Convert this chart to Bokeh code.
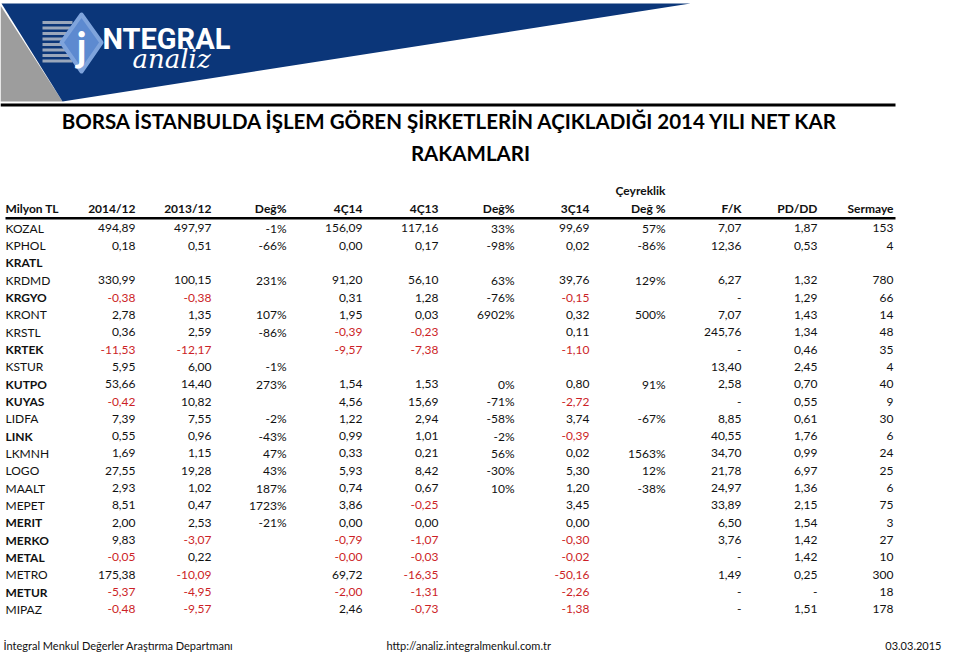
from bokeh.plotting import figure
from bokeh.models import ColumnDataSource, Range1d
from bokeh.core.properties import value
from bokeh.embed import file_html
from bokeh.resources import INLINE

# ---------------- data ----------------
tickers = ["KOZAL", "KPHOL", "KRATL", "KRDMD", "KRGYO", "KRONT", "KRSTL", "KRTEK",
           "KSTUR", "KUTPO", "KUYAS", "LIDFA", "LINK", "LKMNH", "LOGO", "MAALT",
           "MEPET", "MERIT", "MERKO", "METAL", "METRO", "METUR", "MIPAZ"]
bold_tickers = ["KRATL", "KRGYO", "KRTEK", "KUTPO", "KUYAS", "LINK", "MERIT",
                "MERKO", "METAL", "METUR"]

net_2014_12 = ["494,89", "0,18", "", "330,99", "-0,38", "2,78", "0,36", "-11,53", "5,95", "53,66",
               "-0,42", "7,39", "0,55", "1,69", "27,55", "2,93", "8,51", "2,00", "9,83", "-0,05",
               "175,38", "-5,37", "-0,48"]
net_2013_12 = ["497,97", "0,51", "", "100,15", "-0,38", "1,35", "2,59", "-12,17", "6,00", "14,40",
               "10,82", "7,55", "0,96", "1,15", "19,28", "1,02", "0,47", "2,53", "-3,07", "0,22",
               "-10,09", "-4,95", "-9,57"]
chg_yearly = ["-1%", "-66%", "", "231%", "", "107%", "-86%", "", "-1%", "273%",
              "", "-2%", "-43%", "47%", "43%", "187%", "1723%", "-21%", "", "",
              "", "", ""]
q4_2014 = ["156,09", "0,00", "", "91,20", "0,31", "1,95", "-0,39", "-9,57", "", "1,54",
           "4,56", "1,22", "0,99", "0,33", "5,93", "0,74", "3,86", "0,00", "-0,79", "-0,00",
           "69,72", "-2,00", "2,46"]
q4_2013 = ["117,16", "0,17", "", "56,10", "1,28", "0,03", "-0,23", "-7,38", "", "1,53",
           "15,69", "2,94", "1,01", "0,21", "8,42", "0,67", "-0,25", "0,00", "-1,07", "-0,03",
           "-16,35", "-1,31", "-0,73"]
chg_q4 = ["33%", "-98%", "", "63%", "-76%", "6902%", "", "", "", "0%",
          "-71%", "-58%", "-2%", "56%", "-30%", "10%", "", "", "", "",
          "", "", ""]
q3_2014 = ["99,69", "0,02", "", "39,76", "-0,15", "0,32", "0,11", "-1,10", "", "0,80",
           "-2,72", "3,74", "-0,39", "0,02", "5,30", "1,20", "3,45", "0,00", "-0,30", "-0,02",
           "-50,16", "-2,26", "-1,38"]
chg_quarterly = ["57%", "-86%", "", "129%", "", "500%", "", "", "", "91%",
                 "", "-67%", "", "1563%", "12%", "-38%", "", "", "", "",
                 "", "", ""]
pe_ratio = ["7,07", "12,36", "", "6,27", "-", "7,07", "245,76", "-", "13,40", "2,58",
            "-", "8,85", "40,55", "34,70", "21,78", "24,97", "33,89", "6,50", "3,76", "-",
            "1,49", "-", "-"]
pb_ratio = ["1,87", "0,53", "", "1,32", "1,29", "1,43", "1,34", "0,46", "2,45", "0,70",
            "0,55", "0,61", "1,76", "0,99", "6,97", "1,36", "2,15", "1,54", "1,42", "1,42",
            "0,25", "-", "1,51"]
capital = ["153", "4", "", "780", "66", "14", "48", "35", "4", "40",
           "9", "30", "6", "24", "25", "6", "75", "3", "27", "10",
           "300", "18", "178"]

header_labels = ["2014/12", "2013/12", "Değ%", "4Ç14", "4Ç13", "Değ%", "3Ç14",
                 "Değ %", "F/K", "PD/DD", "Sermaye"]
first_header = "Milyon TL"
quarter_header_top = "Çeyreklik"

title_line1 = "BORSA İSTANBULDA İŞLEM GÖREN ŞİRKETLERİN AÇIKLADIĞI 2014 YILI NET KAR"
title_line2 = "RAKAMLARI"
footer_left = "İntegral Menkul Değerler Araştırma Departmanı"
footer_mid = "http://analiz.integralmenkul.com.tr"
footer_right = "03.03.2015"

columns = [net_2014_12, net_2013_12, chg_yearly, q4_2014, q4_2013, chg_q4,
           q3_2014, chg_quarterly, pe_ratio, pb_ratio, capital]

# ---------------- layout ----------------
col_right = [135, 211, 286, 362, 438, 514, 589, 665, 741, 817, 893]
row_top = 227.7
row_step = 17.33
header_y = 208
FONT = value("Lato")
RED = "#cc1f27"
INK = "#111111"
BLUE = "#0b3679"

p = figure(width=944, height=653, x_range=Range1d(0, 944), y_range=Range1d(653, 0),
           output_backend="svg", toolbar_location=None, min_border=0,
           x_axis_location=None, y_axis_location=None,
           background_fill_color="white", border_fill_color="white")
p.outline_line_color = None
p.grid.visible = False

# ---------------- banner ----------------
p.patch([0, 62, 0], [5, 101, 101], color="#9d9d9d", line_color=None)
p.patch([1, 690, 62], [3, 3, 101], color=BLUE, line_color=None)
stripe_y = [22, 27.5, 33, 38.5, 44, 49.5, 55, 60.5]
p.segment(x0=[42] * len(stripe_y), y0=stripe_y, x1=[72] * len(stripe_y), y1=stripe_y,
          line_color="#9aa7bb", line_width=3)
p.patch([81, 101, 81, 61], [14, 42, 71, 42], color="#5d8ad0", line_color="#7fa4dc",
        line_width=4, line_join="round")
p.text(x=[81], y=[45], text=["j"], text_align="center", text_baseline="middle",
       text_font=FONT, text_font_size="40px", text_font_style="bold", text_color="white")
p.text(x=[102], y=[38], text=["NTEGRAL"], text_align="left", text_baseline="middle",
       text_font=value("Roboto"), text_font_size="29px", text_font_style="bold",
       text_color="white")
p.text(x=[132], y=[58], text=["analiz"], text_align="left", text_baseline="middle",
       text_font=value("DejaVu Serif"), text_font_size="26px", text_font_style="italic",
       text_color="white")
p.segment(x0=[0], y0=[104.5], x1=[895], y1=[104.5], line_color="black", line_width=3)

# ---------------- title ----------------
p.text(x=[450, 470], y=[120, 152], text=[title_line1, title_line2], text_align="center",
       text_baseline="middle", text_font=FONT, text_font_size="20.5px",
       text_font_style="bold", text_color="black")

# ---------------- header ----------------
p.text(x=[5], y=[header_y], text=[first_header], text_align="left", text_baseline="middle",
       text_font=FONT, text_font_size="12px", text_font_style="bold", text_color=INK)
p.text(x=col_right, y=[header_y] * len(col_right), text=header_labels, text_align="right",
       text_baseline="middle", text_font=FONT, text_font_size="12px",
       text_font_style="bold", text_color=INK)
p.text(x=[col_right[7]], y=[190], text=[quarter_header_top], text_align="right",
       text_baseline="middle", text_font=FONT, text_font_size="12px",
       text_font_style="bold", text_color=INK)
p.segment(x0=[5], y0=[217.7], x1=[895], y1=[217.7], line_color="black", line_width=2.5)

# ---------------- body ----------------
row_y = [row_top + i * row_step for i in range(len(tickers))]
p.text(x="x", y="y", text="text", text_font_style="style",
       source=ColumnDataSource(dict(
           x=[5] * len(tickers), y=row_y, text=tickers,
           style=["bold" if t in bold_tickers else "normal" for t in tickers])),
       text_align="left", text_baseline="middle", text_font=FONT,
       text_font_size="12px", text_color=INK)

xs, ys, txt, cols = [], [], [], []
for ci, col in enumerate(columns):
    for ri, v in enumerate(col):
        if v == "":
            continue
        xs.append(col_right[ci])
        ys.append(row_y[ri])
        txt.append(v)
        neg = v.startswith("-") and len(v) > 1 and not v.endswith("%")
        cols.append(RED if neg else INK)
p.text(x="x", y="y", text="text", text_color="color",
       source=ColumnDataSource(dict(x=xs, y=ys, text=txt, color=cols)),
       text_align="right", text_baseline="middle", text_font=FONT, text_font_size="12px")

# ---------------- footer ----------------
p.text(x=[3, 386, 941], y=[645, 645, 645], text=[footer_left, footer_mid, footer_right],
       text_align=["left", "left", "right"], text_baseline="middle", text_font=FONT,
       text_font_size="11px", text_color=INK)

open("out.html", "w").write(file_html(p, INLINE))
